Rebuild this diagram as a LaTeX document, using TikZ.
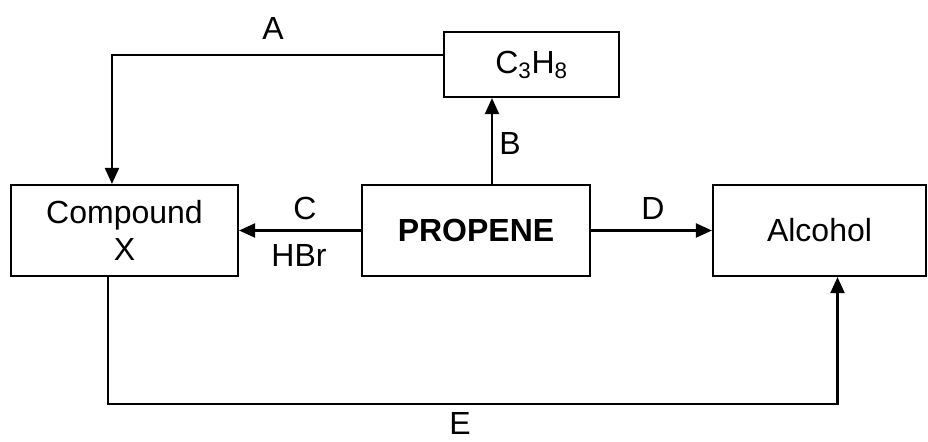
\documentclass[tikz,border=0pt]{standalone}
\usepackage{fontspec}
\setmainfont{Liberation Sans}
\usetikzlibrary{arrows.meta}

\begin{document}
\begin{tikzpicture}[x=0.75pt,y=0.75pt,yscale=-1,xscale=1,
  every node/.style={font=\fontsize{24}{28}\selectfont},
  box/.style={draw,line width=1.6pt,align=center,inner sep=0pt},
  lbl/.style={inner sep=0pt},
  arr/.style={line width=1.6pt,-{Triangle[length=12pt,width=10.5pt]}}]
\useasboundingbox (0,0) rectangle (928,442);

%Boxes
\node [box,minimum width=131.25pt,minimum height=48.75pt] (c3h8) at (531.5,64.5) {C\textsubscript{3}H\textsubscript{8}};
\node [box,minimum width=170.25pt,minimum height=68.25pt] (compound) at (124.5,230.5) {Compound\\X};
\node [box,minimum width=171pt,minimum height=68.25pt] (propene) at (476,230.5) {\textbf{PROPENE}};
\node [box,minimum width=159.75pt,minimum height=68.25pt] (alcohol) at (819.5,230.5) {Alcohol};

%Connectors
\draw [arr] ([yshift=-7.1pt]c3h8.west) -| ([xshift=-9.4pt]compound.north);
\draw [arr] ([xshift=12pt]propene.north) -- ([xshift=12pt]propene.north |- c3h8.south);
\draw [arr] (propene.west) -- (compound.east);
\draw [arr] (propene.east) -- (alcohol.west);
\draw [arr] ([xshift=-12.4pt]compound.south) -- ++(0,127) -| ([xshift=13.5pt]alcohol.south);

% Text Node
\node [lbl] (la) at (273,28) {A};
% Text Node
\node [lbl] (lb) at (510,143) {B};
% Text Node
\node [lbl] (lc) at (305,208) {C};
% Text Node
\node [lbl] (lhbr) at (299,255) {HBr};
% Text Node
\node [lbl] (ld) at (653,208) {D};
% Text Node
\node [lbl] (le) at (460,423) {E};

\end{tikzpicture}
\end{document}
